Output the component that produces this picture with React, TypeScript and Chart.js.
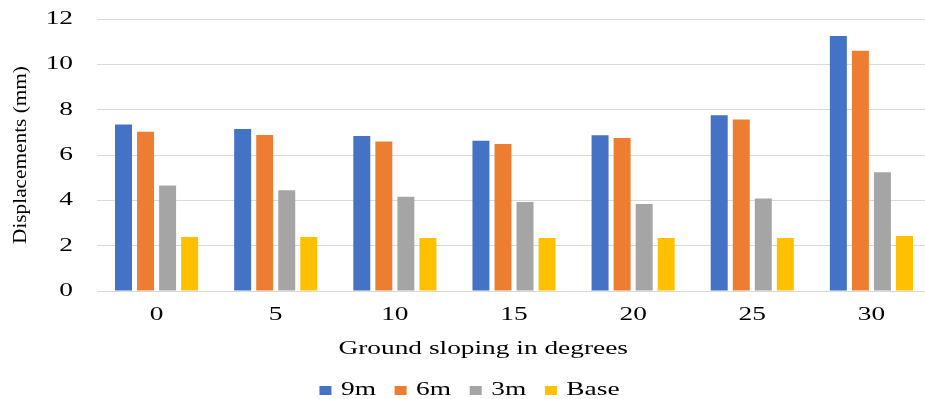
import React, { useEffect, useRef } from "react";
import { Chart, registerables } from "chart.js";

Chart.register(...registerables);

const categories = ["0", "5", "10", "15", "20", "25", "30"];
const series9m = [7.35, 7.15, 6.84, 6.63, 6.87, 7.75, 11.25];
const series6m = [7.03, 6.88, 6.6, 6.48, 6.75, 7.57, 10.6];
const series3m = [4.65, 4.45, 4.16, 3.93, 3.84, 4.08, 5.24];
const seriesBase = [2.38, 2.38, 2.34, 2.34, 2.34, 2.34, 2.43];
const seriesNames = ["9m", "6m", "3m", "Base"];
const colors = ["#4472C4", "#ED7D31", "#A5A5A5", "#FFC000"];

const STRETCH_H = 1.44;
const STRETCH_V = 1.12;
const CANVAS_W = 931;

function stretchText(ctx: CanvasRenderingContext2D) {
  const origFill = ctx.fillText.bind(ctx);
  const origMeasure = ctx.measureText.bind(ctx);
  (ctx as any).fillText = (t: string, x: number, y: number, maxW?: number) => {
    const m = ctx.getTransform();
    const s = Math.abs(m.b) > 0.5 ? STRETCH_V : STRETCH_H;
    ctx.save();
    ctx.translate(x, y);
    ctx.scale(s, 1);
    if (typeof maxW === "number" && isFinite(maxW)) origFill(t, 0, 0, maxW / s);
    else origFill(t, 0, 0);
    ctx.restore();
  };
  (ctx as any).measureText = (t: string) => {
    const m = origMeasure(t);
    return {
      width: m.width * STRETCH_H,
      actualBoundingBoxAscent: m.actualBoundingBoxAscent,
      actualBoundingBoxDescent: m.actualBoundingBoxDescent,
      actualBoundingBoxLeft: m.actualBoundingBoxLeft * STRETCH_H,
      actualBoundingBoxRight: m.actualBoundingBoxRight * STRETCH_H,
      fontBoundingBoxAscent: m.fontBoundingBoxAscent,
      fontBoundingBoxDescent: m.fontBoundingBoxDescent,
    };
  };
}

export default function App() {
  const ref = useRef<HTMLCanvasElement>(null);
  useEffect(() => {
    if (!ref.current) return;
    const ctx = ref.current.getContext("2d");
    if (!ctx) return;
    stretchText(ctx);
    const family = "'Liberation Serif', 'Times New Roman', serif";
    Chart.defaults.font.family = family;
    Chart.defaults.font.size = 19;
    Chart.defaults.font.weight = "normal";
    Chart.defaults.color = "#000";
    const f = { family, size: 19, weight: "normal" as const };
    const values = [series9m, series6m, series3m, seriesBase];
    const pad = "\u00a0".repeat(9);
    const chart = new Chart(ctx, {
      type: "bar",
      data: {
        labels: categories,
        datasets: values.map((v, i) => ({
          label: seriesNames[i],
          data: v,
          backgroundColor: colors[i],
          borderWidth: 0,
          barPercentage: 0.77,
          categoryPercentage: 0.74,
        })),
      },
      options: {
        animation: false,
        responsive: false,
        maintainAspectRatio: false,
        layout: { padding: { top: 19, right: 0, left: 8, bottom: -11 } },
        plugins: {
          legend: {
            position: "bottom",
            labels: {
              font: f,
              color: "#000",
              boxWidth: 12,
              boxHeight: 9,
              padding: 5,
              generateLabels: (c: any) => {
                const items = Chart.defaults.plugins.legend.labels.generateLabels(c);
                return items.map((it: any, i: number) => ({
                  ...it,
                  text: i < items.length - 1 ? it.text + "\u00a0\u00a0" : it.text,
                }));
              },
            },
          },
          tooltip: { enabled: false },
        },
        scales: {
          x: {
            grid: { display: false },
            border: { display: false },
            ticks: { font: f, color: "#000", padding: 5 },
            title: {
              display: true,
              text: "Ground sloping in degrees" + pad,
              font: f,
              color: "#000",
              padding: { top: 10, bottom: 16 },
            },
            afterFit: (scale: any) => {
              scale.height = 85;
            },
          },
          y: {
            min: 0,
            max: 12,
            ticks: { stepSize: 2, font: f, color: "#000", padding: 24 },
            grid: { color: "#d9d9d9", lineWidth: 1, drawTicks: false },
            border: { display: false },
            title: {
              display: true,
              text: "Displacements (mm)",
              font: f,
              color: "#000",
              padding: { top: 2, bottom: 0 },
            },
            afterFit: (scale: any) => {
              scale.width = 89;
              scale.paddingTop = 0;
            },
          },
        },
      },
    });
    return () => chart.destroy();
  }, []);
  return (
    <div style={{ position: "absolute", left: 0, top: 0, width: 925, height: 399, overflow: "hidden", background: "#fff" }}>
      <canvas ref={ref} width={CANVAS_W} height={399} style={{ width: CANVAS_W, height: 399, display: "block" }} />
    </div>
  );
}
